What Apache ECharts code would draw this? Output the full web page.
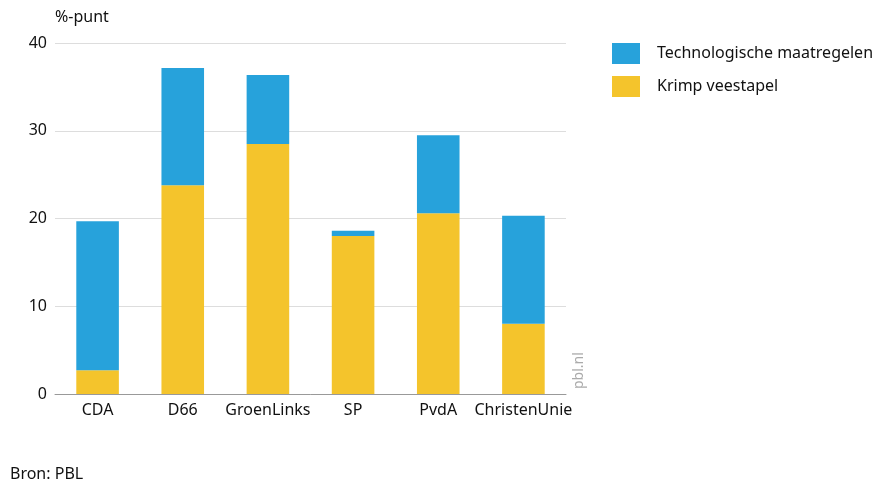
<!DOCTYPE html>
<html>
<head>
<meta charset="utf-8">
<script src="https://cdn.jsdelivr.net/npm/echarts@6/dist/echarts.min.js"></script>
<style>
html,body{margin:0;padding:0;background:#fff;}
#c{width:876px;height:486px;}
</style>
</head>
<body>
<div id="c"></div>
<script>
const categories = ['CDA', 'D66', 'GroenLinks', 'SP', 'PvdA', 'ChristenUnie'];
const krimpVeestapel = [2.7, 23.8, 28.5, 18.0, 20.6, 8.0];
const technologisch = [17.0, 13.35, 7.85, 0.6, 8.9, 12.3];
const yTicks = [0, 10, 20, 30, 40];

const FONT = '"Noto Sans", "Open Sans", sans-serif';
const chart = echarts.init(document.getElementById('c'), null, {renderer: 'canvas'});
chart.setOption({
  animation: false,
  textStyle: {fontFamily: FONT},
  grid: {left: 55, right: 310, top: 43, bottom: 92, containLabel: false},
  legend: {
    data: ['Technologische maatregelen', 'Krimp veestapel'],
    orient: 'vertical',
    left: 607, top: 38,
    itemWidth: 28, itemHeight: 21, itemGap: 12,
    icon: 'rect',
    textStyle: {fontSize: 16, color: '#111', fontFamily: FONT, padding: [0, 0, 0, 12]}
  },
  graphic: [
    {type: 'text', left: 55, top: 9, style: {text: '%-punt', fontSize: 16, fill: '#111', fontFamily: FONT}},
    {type: 'text', left: 10, top: 466, style: {text: 'Bron: PBL', fontSize: 16, fill: '#111', fontFamily: FONT}},
    {type: 'text', x: 572, y: 389, rotation: Math.PI / 2, style: {text: 'pbl.nl', fontSize: 14, fill: '#aaa', fontFamily: FONT, align: 'left', verticalAlign: 'top'}}
  ],
  xAxis: {
    type: 'category',
    data: categories,
    axisLine: {show: true, lineStyle: {color: '#999', width: 1}},
    axisTick: {show: false},
    axisLabel: {fontSize: 16, color: '#111', margin: 8, interval: 0, fontFamily: FONT}
  },
  yAxis: {
    type: 'value',
    min: yTicks[0], max: yTicks[yTicks.length - 1], interval: 10,
    axisLine: {show: false},
    axisTick: {show: false},
    splitLine: {lineStyle: {color: '#dddddd', width: 1}},
    axisLabel: {fontSize: 16, color: '#111', margin: 8, fontFamily: FONT}
  },
  series: [
    {name: 'Krimp veestapel', type: 'bar', stack: 'a', data: krimpVeestapel, barWidth: '50%', itemStyle: {color: '#f4c42c'}},
    {name: 'Technologische maatregelen', type: 'bar', stack: 'a', data: technologisch, barWidth: '50%', itemStyle: {color: '#27a2db'}}
  ]
});
</script>
</body>
</html>
